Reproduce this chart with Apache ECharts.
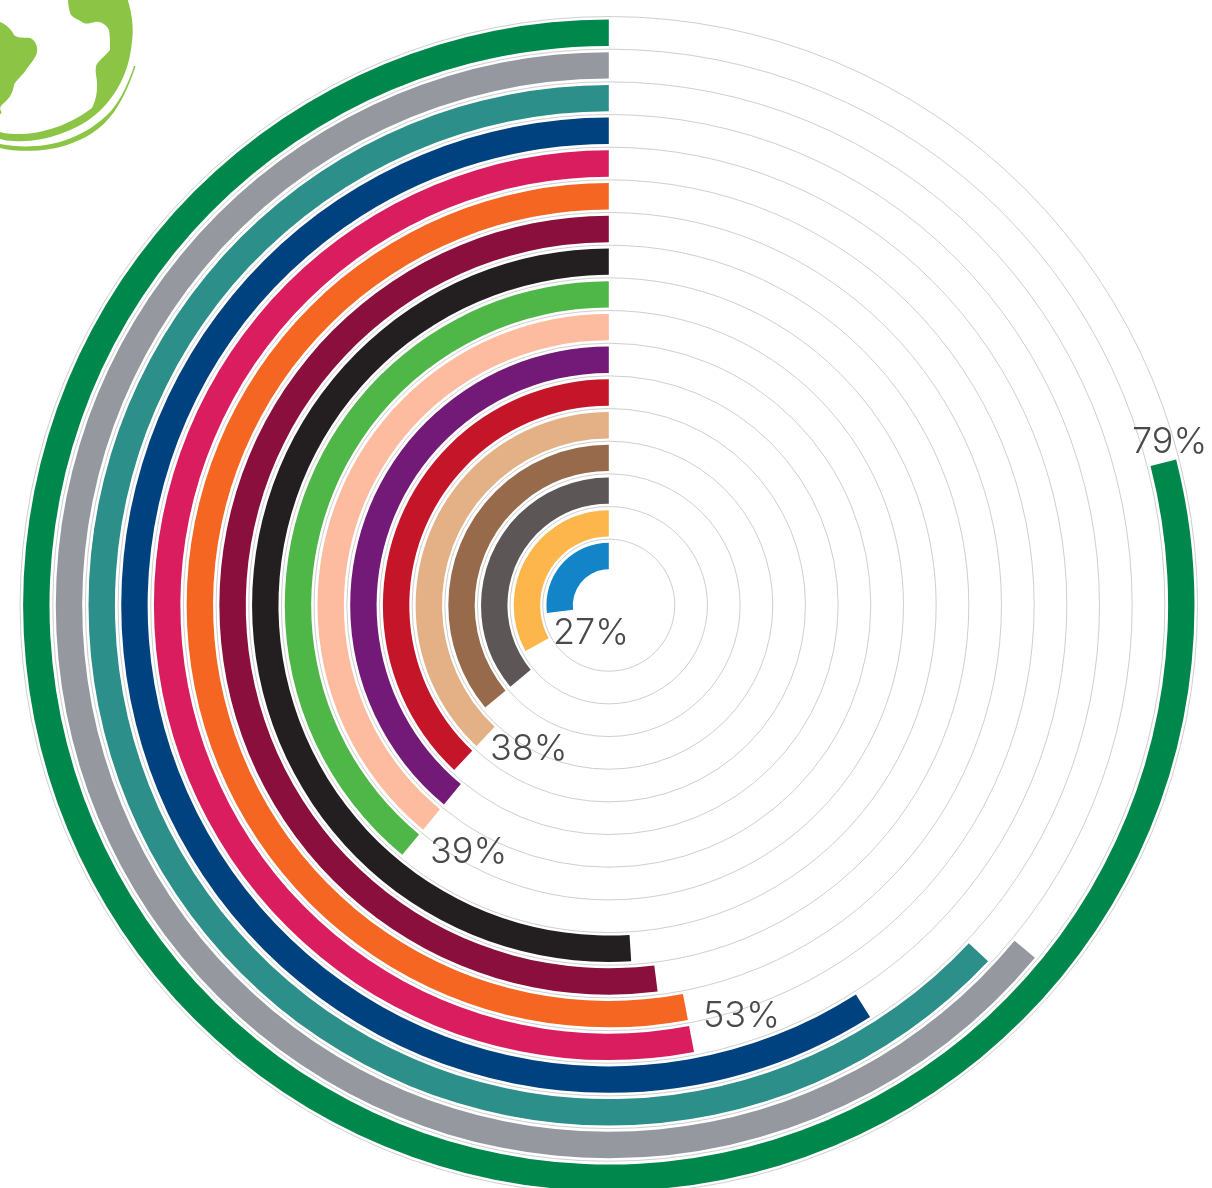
<!DOCTYPE html>
<html>
<head>
<meta charset="utf-8">
<style>html,body{margin:0;padding:0;background:#fff}#c{width:1212px;height:1188px}</style>
<script src="https://cdn.jsdelivr.net/npm/echarts@6/dist/echarts.min.js"></script>
</head>
<body>
<div id="c"></div>
<script>
// Rings, innermost first
const categories = ['1','2','3','4','5','6','7','8','9','10','11','12','13','14','15','16','17'];
const values = [27,33,36,36,38,38,39,39,39,51,52,53,53,59,63,64,79];
const colors = ['#1384C7','#FDB64C','#5C5657','#966A4A','#E3B185','#C41628','#731A78','#FDBBA0','#4FB748','#231F20','#8A0F3C','#F46622','#DA1D5E','#004280','#2D8F89','#95999F','#00874B'];
const labelTexts = ['27%','38%','39%','53%','79%'];
const labelPos = [[553,615],[490,731],[430,834],[703,998],[1132,424]];

const chart = echarts.init(document.getElementById('c'), null, {renderer:'canvas', width:1212, height:1188});
const logoFill = '#8CC546';
const logoPaths = [
  'M68 0 L127.7 0 C131 10 133 22 132.7 33 C132 46 130 58 127 67 C122 82 116 92 108 102 C98 114 84 126 60 134 C46 139 30 142 14 141 C8 141 4 140 0 139 L0 132 C6 134 14 134 22 134 C48 133 74 122 92 108 C96 100 97.5 92 97 82 C96.5 76 95 72 96 66 C97 62 105 56 110 50 C110 42 110 36 109 30 C106 24 100 21 95 22 C90 23 86 25 82 22 C78 19 72 18 70 13 C69 8 68 4 68 0 Z',
  'M0 22 C6 24 12 30 14 35 C18 39 24 37 30 38 C35 40 38 46 37 52 C36 58 30 64 26 70 C22 76 16 80 14 85 C13 92 10 98 4 103 C1 105 -1 108 1 111 C2 113 1 114 0 114 Z',
  'M135.5 66 C131 81 123 99 114 112 C101 130 85 139 67 145 C50 151 20 153 0 148 L0 144 C20 148 45 147 63 141 C82 135 99 124 111 111 C121 99 129 82 134 66 Z'
];

const graphics = labelTexts.map((t,i) => ({
  type:'text', x:labelPos[i][0], y:labelPos[i][1], z:10, silent:true,
  style:{text:t, fill:'#4A4A4A', font:'300 36px Inter', textAlign:'left', textVerticalAlign:'top'}
}));

chart.setOption({
  animation:false,
  backgroundColor:'#fff',
  polar:[
    {center:[608.8,605.2], radius:[66,588.7]},
    {center:[608.8,605.2], radius:[32.8,588.86]}
  ],
  angleAxis:[
    {polarIndex:0, type:'value', min:0, max:100, startAngle:90, clockwise:false, show:false},
    {polarIndex:1, type:'value', min:0, max:100, startAngle:90, clockwise:false, show:false}
  ],
  radiusAxis:[
    {polarIndex:0, type:'value', min:1, max:17, interval:1, z:1,
      axisLine:{show:false}, axisTick:{show:false}, axisLabel:{show:false},
      splitLine:{show:true, lineStyle:{color:'#CFCFCF', width:1}}},
    {polarIndex:1, type:'category', data:categories, z:1,
      axisLine:{show:false}, axisTick:{show:false}, axisLabel:{show:false}, splitLine:{show:false}}
  ],
  series:[{
    type:'bar', coordinateSystem:'polar', polarIndex:1, barWidth:26.4, z:3,
    data:values.map((v,i)=>({value:v, itemStyle:{color:colors[i]}}))
  },{
    type:'custom', coordinateSystem:'none', silent:true, z:5,
    data:logoPaths.map((d,i)=>i),
    renderItem:function(params){
      return {type:'path', shape:{pathData:logoPaths[params.dataIndex]}, style:{fill:logoFill}};
    }
  }],
  graphic:{elements:graphics}
});
</script>
</body>
</html>
